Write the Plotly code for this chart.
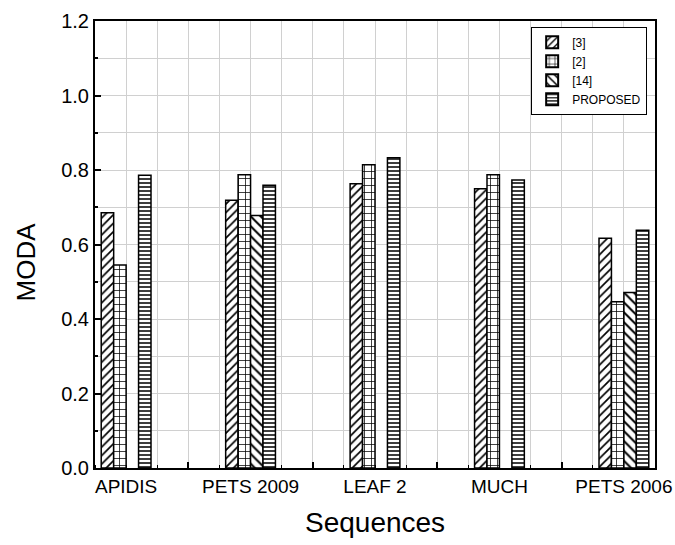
import plotly.graph_objects as go

categories = ["APIDIS", "PETS 2009", "LEAF 2", "MUCH", "PETS 2006"]
cat_pos = [1, 2, 3, 4, 5]
series_names = ["[3]", "[2]", "[14]", "PROPOSED"]
vals_3 = [0.685, 0.719, 0.763, 0.750, 0.617]
vals_2 = [0.545, 0.787, 0.814, 0.787, 0.446]
vals_14 = [None, 0.678, None, None, 0.471]
vals_prop = [0.786, 0.759, 0.833, 0.773, 0.638]
between_ticks = [1.5, 2.5, 3.5, 4.5]

FONT = "Liberation Sans, Arial, sans-serif"
GRID = "#d0d0d0"

patterns = [
    dict(shape="/", size=6, solidity=0.28),
    dict(shape="+", size=7, solidity=0.2),
    dict(shape="\\", size=7, solidity=0.28),
    dict(shape="-", size=4, solidity=0.38),
]

fig = go.Figure()
for name, vals, pat in zip(series_names, [vals_3, vals_2, vals_14, vals_prop], patterns):
    fig.add_trace(go.Bar(
        x=cat_pos, y=vals, name=name,
        marker=dict(color="white", line=dict(color="black", width=1.5),
                    pattern=dict(shape=pat["shape"], size=pat["size"], solidity=pat["solidity"],
                                 fgcolor="black", bgcolor="white", fillmode="replace")),
    ))

# helper trace to activate xaxis2 (tick marks between groups)
fig.add_trace(go.Scatter(x=[None], y=[None], xaxis="x2", showlegend=False, hoverinfo="skip"))

fig.update_layout(
    width=675, height=545,
    margin=dict(l=95, r=20, t=21, b=77, autoexpand=False),
    paper_bgcolor="white", plot_bgcolor="white",
    barmode="group", bargap=0.6, bargroupgap=0,
    font=dict(family=FONT, color="black"),
    showlegend=True,
    legend=dict(x=0.986, y=0.987, xanchor="right", yanchor="top",
                bordercolor="black", borderwidth=1, bgcolor="white",
                font=dict(size=12, family=FONT), tracegroupgap=0,
                itemsizing="constant"),
    xaxis=dict(
        range=[0.75, 5.25], tickmode="array", tickvals=cat_pos, ticktext=categories,
        ticks="", showgrid=True, gridcolor=GRID, gridwidth=1,
        showline=True, linecolor="black", linewidth=2, mirror=True,
        tickfont=dict(size=19, family=FONT), zeroline=False, automargin=False,
        minor=dict(tick0=0.75, dtick=0.25, ticks="inside", ticklen=3, tickcolor="black",
                   showgrid=True, gridcolor=GRID, gridwidth=1),
    ),
    xaxis2=dict(
        overlaying="x", matches="x", range=[0.75, 5.25], side="bottom",
        tickmode="array", tickvals=between_ticks, ticktext=[""] * len(between_ticks),
        ticks="inside", ticklen=6, tickwidth=2, tickcolor="black",
        showgrid=False, showline=False, zeroline=False, automargin=False,
    ),
    yaxis=dict(
        range=[0, 1.2], tickmode="linear", tick0=0, dtick=0.2, tickformat=".1f",
        ticks="inside", ticklen=6, tickwidth=2, tickcolor="black",
        showgrid=True, gridcolor=GRID, gridwidth=1,
        showline=True, linecolor="black", linewidth=2, mirror=True,
        tickfont=dict(size=20, family=FONT), zeroline=False, automargin=False,
        minor=dict(dtick=0.1, tick0=0, ticks="inside", ticklen=3, tickcolor="black",
                   showgrid=True, gridcolor=GRID, gridwidth=1),
    ),
    annotations=[
        dict(text="MODA", xref="paper", yref="paper", x=-0.123, y=0.46,
             xanchor="center", yanchor="middle", textangle=-90, showarrow=False,
             font=dict(size=26, family=FONT)),
        dict(text="Sequences", xref="paper", yref="paper", x=0.5, y=-0.121,
             xanchor="center", yanchor="middle", showarrow=False,
             font=dict(size=28, family=FONT)),
    ],
)

fig.write_html(
    "out.html",
    config={"displayModeBar": False},
    post_script="document.body.style.margin='0px'; document.body.style.overflow='hidden';",
)
